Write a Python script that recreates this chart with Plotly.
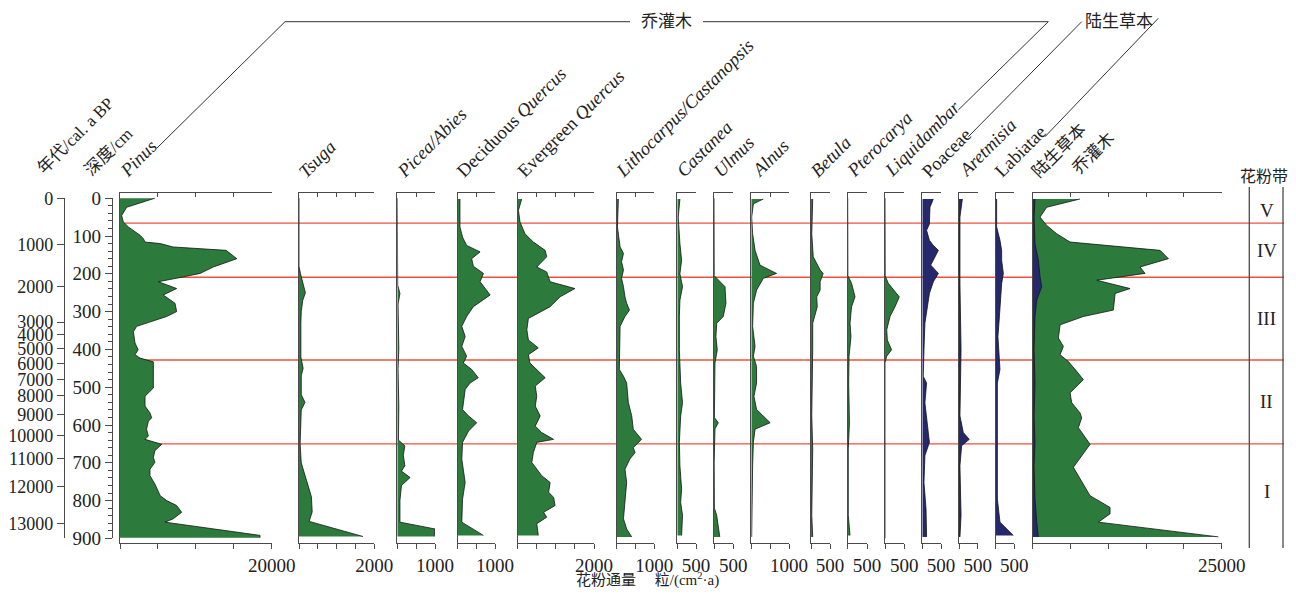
import plotly.graph_objects as go

# ---------------- data ----------------
depth_ticks = list(range(0, 901, 100))
age_labels = ['0', '1000', '2000', '3000', '4000', '5000', '6000', '7000',
              '8000', '9000', '10000', '11000', '12000', '13000']
age_depths = [0, 123.5, 233.9, 328, 360, 398.7, 436.5, 478.8, 523, 573, 628, 688, 763, 861.6]
zone_bounds = [0, 66, 209, 428, 650, 900]
zone_names = ['V', 'IV', 'III', 'II', 'I']

pinus_d = [0, 24, 46, 63, 76, 85, 98, 107, 116, 120, 129, 138, 160, 182, 199, 210, 221, 239, 256, 278,
           300, 313, 331, 339, 353, 383, 401, 414, 423, 433, 489, 502, 524, 550, 568, 581, 590, 611, 629,
           638, 651, 668, 686, 699, 717, 734, 756, 787, 800, 813, 831, 848, 857, 892, 898]
pinus_v = [4600, 880, 220, 440, 1100, 1760, 2640, 3080, 3300, 5300, 7000, 14000, 15400, 12300, 10550,
           7900, 5050, 7470, 5700, 7250, 7470, 6150, 3500, 2200, 1760, 1980, 2400, 1980, 2640, 4400, 4400,
           4400, 3300, 3300, 3950, 4180, 3740, 3500, 3740, 3300, 5500, 4600, 4400, 4600, 3950, 3950, 4600,
           5300, 6150, 7470, 8130, 7030, 5930, 18460, 18460]

tsuga_d = [0, 180, 200, 230, 250, 270, 300, 330, 380, 420, 450, 470, 520, 540, 560, 600, 650, 700, 720,
           750, 770, 790, 830, 855, 895]
tsuga_v = [0, 0, 40, 120, 170, 100, 60, 50, 60, 50, 110, 60, 60, 160, 60, 50, 30, 60, 120, 200, 250, 330,
           350, 270, 1700]

picea_d = [0, 230, 252, 280, 400, 450, 550, 640, 655, 680, 708, 722, 739, 760, 800, 857, 875, 895]
picea_v = [0, 10, 70, 20, 40, 20, 40, 30, 200, 160, 200, 110, 340, 110, 70, 70, 1000, 980]

decq_d = [2, 76, 103, 125, 142, 160, 180, 199, 221, 256, 287, 313, 339, 366, 392, 418, 436, 453, 475, 489,
          506, 559, 576, 594, 616, 646, 690, 752, 796, 857, 892]
decq_v = [60, 60, 130, 240, 600, 375, 420, 690, 600, 870, 420, 240, 110, 200, 110, 240, 150, 375, 550, 330,
          200, 130, 290, 510, 290, 130, 110, 200, 130, 110, 690]

evq_d = [2, 32, 63, 94, 116, 138, 155, 182, 195, 221, 239, 261, 287, 318, 348, 375, 396, 414, 436, 458,
         475, 497, 524, 550, 576, 603, 620, 638, 646, 673, 699, 734, 752, 778, 791, 813, 831, 844, 861, 892]
evq_v = [105, 20, 60, 190, 410, 720, 760, 500, 760, 850, 1500, 1110, 850, 280, 240, 280, 540, 280, 320, 540,
         720, 460, 500, 460, 590, 460, 630, 940, 500, 410, 370, 630, 850, 810, 940, 980, 680, 760, 500, 540]

lith_d = [2, 76, 129, 146, 168, 190, 212, 234, 261, 278, 296, 313, 339, 401, 453, 471, 489, 541, 576, 611,
          638, 660, 673, 690, 717, 752, 796, 848, 875, 896]
lith_v = [45, 20, 90, 180, 130, 180, 130, 180, 220, 265, 340, 220, 90, 70, 70, 180, 265, 310, 400, 440,
          660, 440, 490, 350, 220, 265, 220, 180, 265, 400]

cast_d = [2, 50, 120, 164, 200, 234, 270, 313, 401, 489, 541, 576, 646, 708, 769, 805, 839, 892]
cast_v = [70, 25, 70, 115, 70, 140, 70, 55, 55, 90, 140, 90, 55, 70, 115, 90, 140, 115]

ulmus_d = [0, 205, 234, 278, 313, 331, 366, 401, 436, 500, 580, 594, 610, 700, 820, 839, 896]
ulmus_v = [0, 5, 285, 310, 240, 70, 50, 85, 25, 10, 10, 110, 25, 5, 10, 70, 150]

alnus_d = [2, 15, 50, 94, 138, 177, 199, 212, 243, 278, 339, 392, 418, 445, 489, 524, 559, 594, 611, 646,
           708, 839, 896]
alnus_v = [320, 55, 10, 35, 100, 230, 670, 320, 140, 55, 35, 100, 55, 140, 140, 70, 140, 500, 100, 55, 35,
           10, 10]

betula_d = [2, 94, 155, 190, 199, 221, 243, 261, 287, 313, 331, 401, 541, 576, 664, 839, 896]
betula_v = [45, 20, 60, 240, 320, 240, 240, 150, 165, 105, 45, 45, 25, 20, 45, 20, 45]

ptero_d = [0, 205, 225, 261, 287, 331, 366, 418, 489, 594, 664, 839, 892]
ptero_v = [0, 5, 100, 190, 100, 60, 85, 35, 25, 45, 15, 15, 60]

liq_d = [0, 205, 225, 261, 287, 313, 348, 375, 401, 418, 435, 900]
liq_v = [0, 5, 85, 370, 260, 130, 45, 60, 170, 45, 0, 0]

poa_d = [2, 24, 68, 85, 111, 125, 138, 164, 177, 199, 221, 252, 287, 331, 401, 471, 489, 541, 646, 681,
         752, 822, 896]
poa_v = [295, 205, 190, 115, 190, 295, 430, 295, 225, 430, 295, 190, 135, 70, 45, 25, 115, 70, 190, 70,
         45, 100, 115]

art_d = [2, 50, 226, 401, 576, 620, 638, 655, 708, 839, 896]
art_v = [90, 25, 25, 55, 25, 115, 275, 70, 25, 55, 25]

lab_d = [2, 76, 111, 138, 164, 199, 226, 270, 313, 366, 401, 453, 489, 576, 664, 796, 857, 892]
lab_v = [25, 25, 115, 160, 160, 205, 160, 135, 100, 60, 80, 115, 45, 45, 25, 45, 115, 475]

tree_d = [2, 24, 50, 72, 94, 116, 138, 160, 182, 199, 217, 239, 252, 296, 313, 335, 370, 392, 414, 432,
          458, 480, 515, 541, 568, 581, 607, 651, 712, 787, 818, 835, 857, 896]
tree_v = [6260, 1850, 970, 1850, 3175, 4940, 16850, 17950, 14200, 14860, 8470, 12880, 10900, 10670, 6700,
          3620, 3400, 4060, 3620, 4720, 5820, 6700, 4940, 5160, 6260, 6480, 6040, 7590, 5380, 7590, 10230,
          10230, 8690, 24560]

herb_d = [2, 50, 120, 164, 208, 234, 270, 313, 401, 489, 576, 646, 708, 796, 857, 896]
herb_v = [300, 180, 300, 750, 970, 1190, 530, 300, 180, 300, 180, 300, 180, 300, 530, 750]

panel_names = ['<i>Pinus</i>', '<i>Tsuga</i>', '<i>Picea/Abies</i>', 'Deciduous <i>Quercus</i>',
               'Evergreen <i>Quercus</i>', '<i>Lithocarpus/Castanopsis</i>', '<i>Castanea</i>',
               '<i>Ulmus</i>', '<i>Alnus</i>', '<i>Betula</i>', '<i>Pterocarya</i>', '<i>Liquidambar</i>',
               'Poaceae', '<i>Aretmisia</i>', 'Labiatae', '陆生草本']
panel_max = [20000, 2000, 1000, 1000, 2000, 1000, 500, 500, 1000, 500, 500, 500, 500, 500, 500, 25000]
panel_series = [
    [(pinus_d, pinus_v, 'tree')], [(tsuga_d, tsuga_v, 'tree')], [(picea_d, picea_v, 'tree')],
    [(decq_d, decq_v, 'tree')], [(evq_d, evq_v, 'tree')], [(lith_d, lith_v, 'tree')],
    [(cast_d, cast_v, 'tree')], [(ulmus_d, ulmus_v, 'tree')], [(alnus_d, alnus_v, 'tree')],
    [(betula_d, betula_v, 'tree')], [(ptero_d, ptero_v, 'tree')], [(liq_d, liq_v, 'tree')],
    [(poa_d, poa_v, 'herb')], [(art_d, art_v, 'herb')], [(lab_d, lab_v, 'herb')],
    [(tree_d, tree_v, 'tree'), (herb_d, herb_v, 'herb')],
]

# ---------------- layout geometry (reference pixels) ----------------
OFF = 8                       # page body margin
FW, FH = 1296 - 2 * OFF, 599 - 2 * OFF
panel_px = [(120, 271.7), (299, 374.3), (397.3, 435), (457.7, 495), (517.7, 594), (616.7, 654.3),
            (677.3, 696), (714, 733.3), (751.3, 789), (811, 830), (847.7, 867), (885, 904.3),
            (922.3, 941), (959, 977.7), (995.7, 1014.3), (1032.7, 1221.7)]
colors = {'tree': '#2c7a3c', 'herb': '#25296c'}
AX = '#4a4a4a'
FONT = 'Liberation Serif, Noto Sans CJK SC, serif'
TICKSIZE = 19
LABSIZE = 18.5


def px(p):
    return (p - OFF) / FW


def py(p):
    return 1 - (p - OFF) / FH


Y_TOP, Y_BOT = 193.3, 543.0
D0, D900 = 198.2, 538.4
cm_px = (D900 - D0) / 900.0
yrange = [(Y_BOT - D0) / cm_px, (Y_TOP - D0) / cm_px]
ydom = [py(Y_BOT), py(Y_TOP)]

fig = go.Figure()
layout = dict(width=FW, height=FH, margin=dict(l=0, r=0, t=0, b=0, pad=0, autoexpand=False), autosize=False,
              paper_bgcolor='white', plot_bgcolor='rgba(0,0,0,0)', showlegend=False,
              font=dict(family=FONT, size=TICKSIZE, color='#222'))
annotations = []
shapes = []

n = len(panel_px)
for i in range(n):
    k = i + 1
    xid = 'x' if k == 1 else f'x{k}'
    yid = 'y' if k == 1 else f'y{k}'
    xkey = 'xaxis' if k == 1 else f'xaxis{k}'
    ykey = 'yaxis' if k == 1 else f'yaxis{k}'
    topk = k + n
    l, r = panel_px[i]
    mx = panel_max[i]
    step = 5000 if mx >= 20000 else 500
    tv = list(range(0, mx + 1, step))
    tt = [' '] * (len(tv) - 1) + [str(mx)]
    for (d, v, kind) in panel_series[i]:
        fig.add_trace(go.Scatter(x=v, y=d, xaxis=xid, yaxis=yid, mode='lines', fill='tozerox',
                                 fillcolor=colors[kind], line=dict(color='#151515', width=0.8),
                                 hoverinfo='skip'))
    layout[xkey] = dict(domain=[px(l), px(r)], range=[0, mx], anchor=yid, side='bottom',
                        showline=True, linecolor=AX, linewidth=1.3, ticks='outside', ticklen=5,
                        tickwidth=1.2, tickcolor=AX, tickvals=tv, ticktext=tt, showgrid=False,
                        zeroline=False, tickfont=dict(size=TICKSIZE), tickangle=0, automargin=False,
                        fixedrange=True)
    layout[f'xaxis{topk}'] = dict(domain=[px(l), px(r)], range=[0, mx], anchor=yid, overlaying=xid,
                                  side='top', showline=True, linecolor=AX, linewidth=1.3,
                                  ticks='inside', ticklen=4, tickwidth=1.2, tickcolor=AX, tickvals=tv,
                                  showticklabels=False, showgrid=False, zeroline=False, automargin=False)
    fig.add_trace(go.Scatter(x=[], y=[], xaxis=f'x{topk}', yaxis=yid, hoverinfo='skip'))
    layout[ykey] = dict(domain=ydom, range=yrange, anchor=xid, showline=True, linecolor=AX,
                        linewidth=1.3, showticklabels=False, ticks='', showgrid=False, zeroline=False,
                        automargin=False)
    if k < n:
        annotations.append(dict(x=px(l - 7), y=py(184), xref='paper', yref='paper', text=panel_names[i],
                                showarrow=False, textangle=-45, xanchor='left', yanchor='bottom',
                                font=dict(size=LABSIZE)))

# total-panel labels
l_tot = panel_px[-1][0]
annotations.append(dict(x=px(l_tot - 7), y=py(184), xref='paper', yref='paper', text='陆生草本',
                        showarrow=False, textangle=-45, xanchor='left', yanchor='bottom', font=dict(size=17)))
annotations.append(dict(x=px(l_tot + 33), y=py(181), xref='paper', yref='paper', text='乔灌木',
                        showarrow=False, textangle=-45, xanchor='left', yanchor='bottom', font=dict(size=17)))

# depth axis and age axis (on a hidden helper x-axis)
ydom2 = [py(D900), py(D0)]
layout['xaxis40'] = dict(domain=[0, px(110)], range=[0, 1], visible=False, anchor='y40', automargin=False)
layout['yaxis40'] = dict(domain=ydom2, range=[900, 0], visible=False, anchor='x40', automargin=False)
layout['yaxis17'] = dict(domain=ydom2, range=[900, 0], anchor='free', overlaying='y40', position=px(112),
                         side='left', showline=True, linecolor=AX, linewidth=1.3, ticks='outside',
                         ticklen=7, tickwidth=1.2, tickcolor=AX, tickvals=depth_ticks, showgrid=False,
                         zeroline=False, tickfont=dict(size=TICKSIZE), automargin=False,
                         minor=dict(dtick=20, ticks='outside', ticklen=4, tickwidth=1, tickcolor=AX))
layout['yaxis18'] = dict(domain=ydom2, range=[900, 0], anchor='free', overlaying='y40', position=px(64),
                         side='left', showline=True, linecolor=AX, linewidth=1.3, ticks='outside',
                         ticklen=7, tickwidth=1.2, tickcolor=AX, tickvals=age_depths, ticktext=age_labels,
                         showgrid=False, zeroline=False, tickfont=dict(size=18), automargin=False)
fig.add_trace(go.Scatter(x=[], y=[], xaxis='x40', yaxis='y40', hoverinfo='skip'))
fig.add_trace(go.Scatter(x=[], y=[], xaxis='x40', yaxis='y17', hoverinfo='skip'))
fig.add_trace(go.Scatter(x=[], y=[], xaxis='x40', yaxis='y18', hoverinfo='skip'))

annotations.append(dict(x=px(140), y=py(121), xref='paper', yref='paper', text='深度/cm', showarrow=False,
                        textangle=-45, xanchor='right', yanchor='top', font=dict(size=17)))
annotations.append(dict(x=px(121), y=py(91), xref='paper', yref='paper', text='年代/cal. a BP',
                        showarrow=False, textangle=-45, xanchor='right', yanchor='top', font=dict(size=17)))

# zone boundaries (red lines)
for b in zone_bounds[1:-1]:
    shapes.append(dict(type='line', xref='paper', yref='y', x0=px(120), x1=px(1284), y0=b, y1=b,
                       line=dict(color='#f0503c', width=1.4), layer='below'))

# zone column
for xx in (1249.3, 1283):
    shapes.append(dict(type='line', xref='paper', yref='paper', x0=px(xx), x1=px(xx), y0=py(187),
                       y1=py(548), line=dict(color=AX, width=1.3)))
for zi, name in enumerate(zone_names):
    mid = (zone_bounds[zi] + zone_bounds[zi + 1]) / 2
    annotations.append(dict(x=px(1266.5), y=mid, xref='paper', yref='y', text=name, showarrow=False,
                            xanchor='center', yanchor='middle', font=dict(size=19)))
annotations.append(dict(x=px(1264), y=py(176), xref='paper', yref='paper', text='花粉带',
                        showarrow=False, xanchor='center', yanchor='middle', font=dict(size=16)))


# group leader lines
def seg(a, b):
    shapes.append(dict(type='line', xref='paper', yref='paper', x0=px(a[0]), y0=py(a[1]),
                       x1=px(b[0]), y1=py(b[1]), line=dict(color='#333', width=1)))


seg((156.7, 148.3), (285, 21.7))
seg((285, 21.7), (630, 21.7))
seg((703, 21.7), (1048.3, 21.7))
seg((1048.3, 21.7), (958.3, 110))
seg((968.3, 136.7), (1081.7, 21.7))
seg((1045, 136.7), (1158.3, 18.3))
annotations.append(dict(x=px(666.5), y=py(21.7), xref='paper', yref='paper', text='乔灌木',
                        showarrow=False, xanchor='center', yanchor='middle', font=dict(size=17)))
annotations.append(dict(x=px(1083), y=py(21.7), xref='paper', yref='paper', text='陆生草本',
                        showarrow=False, xanchor='left', yanchor='middle', font=dict(size=17)))

# x-axis title
annotations.append(dict(x=px(647), y=py(579), xref='paper', yref='paper',
                        text='花粉通量　 粒/(cm<sup>2</sup>·a)', showarrow=False,
                        xanchor='center', yanchor='middle', font=dict(size=15)))

layout['annotations'] = annotations
layout['shapes'] = shapes
fig.update_layout(**layout)
fig.write_html('out.html')
